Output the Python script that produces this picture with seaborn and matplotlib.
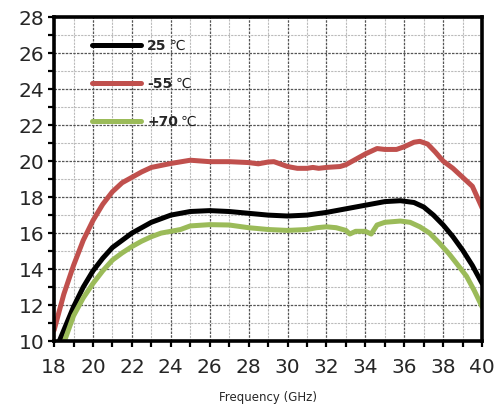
import numpy as np
import pandas as pd
import matplotlib
matplotlib.use("Agg")
import matplotlib.pyplot as plt
import seaborn as sns
from matplotlib.ticker import MultipleLocator
from matplotlib.lines import Line2D

# ---- data ----
freq_25 = [18, 18.5, 19, 19.5, 20, 20.5, 21, 21.5, 22, 23, 24, 25, 26, 27, 28, 29, 30, 31, 32, 33, 34, 35,
           35.8, 36.5, 37, 37.5, 38, 38.5, 39, 39.5, 40]
gain_25 = [9.3, 10.6, 11.9, 13.0, 13.9, 14.6, 15.2, 15.6, 16.0, 16.6, 17.0, 17.2, 17.25, 17.2, 17.1, 17.0,
           16.95, 17.0, 17.15, 17.35, 17.55, 17.75, 17.8, 17.7, 17.45, 17.0, 16.45, 15.8, 15.05, 14.2, 13.2]

freq_m55 = [18, 18.5, 19, 19.5, 20, 20.5, 21, 21.5, 22, 22.5, 23, 24, 25, 26, 27, 28, 28.5, 29, 29.3, 30,
            30.5, 31, 31.3, 31.6, 32, 32.7, 33, 33.5, 34, 34.6, 35, 35.6, 36, 36.5, 36.8, 37.2, 37.6, 38,
            38.5, 39, 39.5, 40]
gain_m55 = [10.6, 12.6, 14.2, 15.6, 16.7, 17.6, 18.3, 18.8, 19.1, 19.4, 19.65, 19.87, 20.05, 19.97, 19.97,
            19.92, 19.85, 19.95, 19.97, 19.7, 19.6, 19.6, 19.65, 19.6, 19.65, 19.7, 19.8, 20.1, 20.4, 20.7,
            20.65, 20.65, 20.8, 21.05, 21.1, 20.95, 20.5, 20.0, 19.6, 19.1, 18.6, 17.4]

freq_70 = [18.5, 19, 19.5, 20, 20.5, 21, 21.5, 22, 22.5, 23, 23.5, 24, 24.5, 25, 26, 27, 28, 29, 30, 31,
           31.5, 32, 32.5, 33, 33.2, 33.5, 34, 34.3, 34.6, 35, 35.8, 36.3, 36.8, 37.3, 37.8, 38.3, 38.7,
           39.2, 39.6, 40]
gain_70 = [9.9, 11.4, 12.4, 13.2, 13.9, 14.5, 14.9, 15.25, 15.55, 15.8, 16.0, 16.1, 16.2, 16.4, 16.47,
           16.45, 16.3, 16.2, 16.15, 16.2, 16.3, 16.35, 16.3, 16.15, 15.95, 16.1, 16.1, 15.95, 16.45, 16.6,
           16.67, 16.6, 16.35, 16.0, 15.45, 14.85, 14.3, 13.6, 12.8, 11.9]

labels = ["25", "-55", "+70"]
unit = "℃"
colors = ["#000000", "#C0504D", "#9BBB59"]
xticks = list(range(18, 41, 2))
yticks = list(range(10, 29, 2))

frames = []
for lab, f, g in [(labels[0], freq_25, gain_25), (labels[1], freq_m55, gain_m55), (labels[2], freq_70, gain_70)]:
    frames.append(pd.DataFrame({"freq": f, "gain": g, "temp": lab}))
df = pd.concat(frames, ignore_index=True)

sns.set_style("white")
plt.rcParams['font.family'] = ['DejaVu Sans']
plt.rcParams['axes.unicode_minus'] = False

fig = plt.figure(figsize=(4.96, 4.19), dpi=100)
ax = fig.add_axes([0.109, 0.186, 0.863, 0.773])

sns.lineplot(data=df, x="freq", y="gain", hue="temp", hue_order=labels,
             palette=dict(zip(labels, colors)), lw=3.6, ax=ax, sort=False,
             legend=False, zorder=3)

ax.set_xlim(18, 40)
ax.set_ylim(10, 28)
ax.set_xticks(xticks)
ax.set_yticks(yticks)
ax.xaxis.set_minor_locator(MultipleLocator(1))
ax.yaxis.set_minor_locator(MultipleLocator(1))
ax.grid(which="major", color="#555555", ls=(0, (2, 1)), lw=0.9, zorder=0)
ax.grid(which="minor", color="#bbbbbb", ls=(0, (2, 1)), lw=0.8, zorder=0)
for s in ax.spines.values():
    s.set_linewidth(2.6)
    s.set_color("black")
    s.set_zorder(4)
ax.tick_params(which="both", direction="out", length=4, width=1.6, color="black",
               bottom=True, left=True, labelsize=14.5, pad=3)
ax.tick_params(axis="x", pad=8)
ax.set_xlabel("Frequency (GHz)", fontsize=8.5, labelpad=10)
ax.set_ylabel("")

handles = [Line2D([], [], color=c, lw=3.6, solid_capstyle="round") for c in colors]
leg = ax.legend(handles, labels, loc="upper left", bbox_to_anchor=(0.06, 0.972), frameon=False,
                prop={"size": 10, "weight": "bold"}, handlelength=3.5, handletextpad=0.45,
                labelspacing=1.75)

fig.canvas.draw()
inv = ax.transAxes.inverted()
for t in leg.get_texts():
    bb = t.get_window_extent()
    x1, y0 = inv.transform((bb.x1, bb.y0))
    ax.text(x1 + 0.007, y0, unit, transform=ax.transAxes, va="bottom", ha="left",
            fontsize=10, color="#222222", zorder=5)

fig.savefig("out.png", dpi=100)
